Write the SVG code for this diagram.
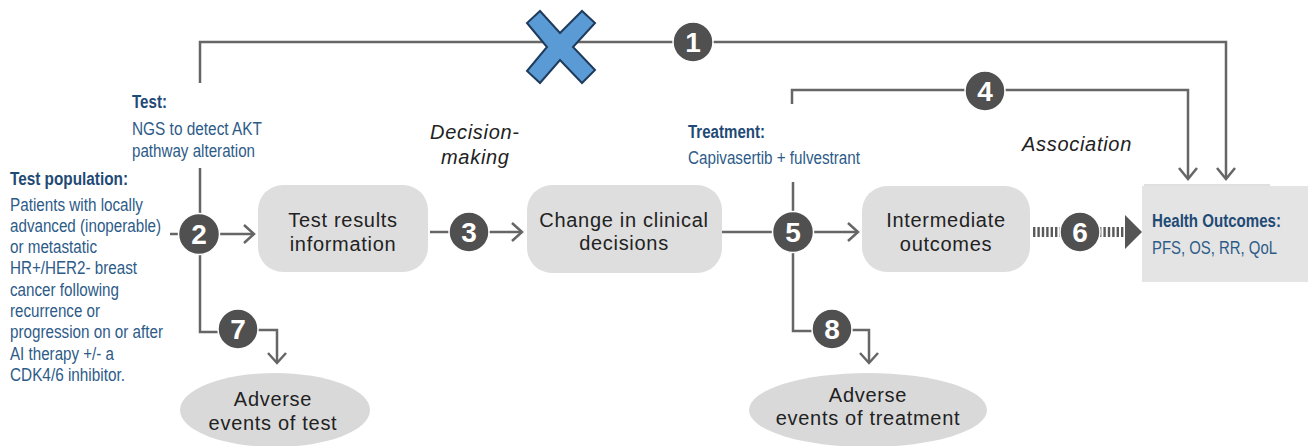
<svg xmlns="http://www.w3.org/2000/svg" width="1308" height="446" viewBox="0 0 1308 446">
<style>
.ln{fill:none;stroke:#666;stroke-width:2.5}
.ah{fill:none;stroke:#666;stroke-width:2.5;stroke-linejoin:miter}
.box{fill:#dedede}
.bt{font-family:"Liberation Sans",Arial,sans-serif;font-size:20px;letter-spacing:0.7px;fill:#222;text-anchor:middle}
.it{font-family:"Liberation Sans",Arial,sans-serif;font-size:20px;letter-spacing:0.7px;fill:#222;font-style:italic}
.hd{font-family:"Liberation Sans",Arial,sans-serif;font-size:17.5px;font-weight:bold;fill:#1f4a75}
.tx{font-family:"Liberation Sans",Arial,sans-serif;font-size:17.5px;fill:#2d5b88}
.nc{fill:#505050;stroke:#fff;stroke-width:1.5}
.nt{font-family:"Liberation Sans",Arial,sans-serif;font-size:28px;font-weight:bold;fill:#fff;text-anchor:middle}
</style>

<g id="connectors">
  <path class="ln" d="M200,83 V42 H1226 V178"/>
  <path class="ah" d="M1217,168 L1226,179 L1235,168"/>
  <path class="ln" d="M792,104 V90 H1188 V178"/>
  <path class="ah" d="M1179,168 L1188,179 L1197,168"/>
  <path class="ln" d="M200,168 V332 H220"/>
  <path class="ln" d="M170,234 H178"/>
  <path class="ln" d="M220,234 H254"/>
  <path class="ah" d="M244,225 L254,234 L244,243"/>
  <path class="ln" d="M256,330 H277 V363"/>
  <path class="ah" d="M268,353 L277,363 L286,353"/>
  <path class="ln" d="M430,232 H450"/>
  <path class="ln" d="M488,232 H522"/>
  <path class="ah" d="M512,223 L522,232 L512,241"/>
  <path class="ln" d="M722,232 H774"/>
  <path class="ln" d="M812,232 H858"/>
  <path class="ah" d="M848,223 L858,232 L848,241"/>
  <path class="ln" d="M793,182 V331 H813"/>
  <path class="ln" d="M851,330 H869 V363"/>
  <path class="ah" d="M860,353 L869,363 L878,353"/>
  <path d="M1033,232 H1062" fill="none" stroke="#5a5a5a" stroke-width="10" stroke-dasharray="2.4 2"/>
  <path d="M1099,232 H1125" fill="none" stroke="#5a5a5a" stroke-width="10" stroke-dasharray="2.4 2"/>
  <polygon points="1125,215 1142,232 1125,249" fill="#555"/>
</g>

<g id="x-mark">
  <polygon points="540,11 560,33 582,11 595,23 573,47 595,70 582,83 560,60 540,83 527,71 547,47 527,23" fill="#5b9bd5" stroke="#1e3b5c" stroke-width="2" stroke-linejoin="miter"/>
</g>

<g id="n1"><circle class="nc" cx="693" cy="42" r="20"/><text class="nt" x="693" y="52">1</text></g>
<g id="n2"><circle class="nc" cx="199" cy="234" r="20.5"/><text class="nt" x="199" y="244">2</text></g>
<g id="n3"><circle class="nc" cx="469" cy="232" r="20"/><text class="nt" x="469" y="242">3</text></g>
<g id="n4"><circle class="nc" cx="985" cy="91" r="20"/><text class="nt" x="985" y="101">4</text></g>
<g id="n5"><circle class="nc" cx="793" cy="232" r="20.5"/><text class="nt" x="793" y="242">5</text></g>
<g id="n6"><circle class="nc" cx="1080" cy="232" r="20"/><text class="nt" x="1080" y="242">6</text></g>
<g id="n7"><circle class="nc" cx="238" cy="329" r="20"/><text class="nt" x="238" y="339">7</text></g>
<g id="n8"><circle class="nc" cx="832" cy="329" r="20"/><text class="nt" x="832" y="339">8</text></g>

<g id="test-label">
  <text class="hd" x="132" y="108" textLength="35" lengthAdjust="spacingAndGlyphs">Test:</text>
  <text class="tx" x="132" y="135" textLength="130" lengthAdjust="spacingAndGlyphs">NGS to detect AKT</text>
  <text class="tx" x="132" y="157" textLength="123" lengthAdjust="spacingAndGlyphs">pathway alteration</text>
</g>

<g id="test-population">
  <text class="hd" x="10" y="185" textLength="118" lengthAdjust="spacingAndGlyphs">Test population:</text>
  <text class="tx" x="10" y="211" textLength="133" lengthAdjust="spacingAndGlyphs">Patients with locally</text>
  <text class="tx" x="10" y="232" textLength="151" lengthAdjust="spacingAndGlyphs">advanced (inoperable)</text>
  <text class="tx" x="10" y="253" textLength="87" lengthAdjust="spacingAndGlyphs">or metastatic</text>
  <text class="tx" x="10" y="274" textLength="127" lengthAdjust="spacingAndGlyphs">HR+/HER2- breast</text>
  <text class="tx" x="10" y="296" textLength="109" lengthAdjust="spacingAndGlyphs">cancer following</text>
  <text class="tx" x="10" y="317" textLength="90" lengthAdjust="spacingAndGlyphs">recurrence or</text>
  <text class="tx" x="10" y="338" textLength="153" lengthAdjust="spacingAndGlyphs">progression on or after</text>
  <text class="tx" x="10" y="360" textLength="104" lengthAdjust="spacingAndGlyphs">AI therapy +/- a</text>
  <text class="tx" x="10" y="381" textLength="115" lengthAdjust="spacingAndGlyphs">CDK4/6 inhibitor.</text>
</g>

<g id="test-results">
  <rect class="box" x="258" y="185" width="170" height="87" rx="25"/>
  <text class="bt" x="343" y="227">Test results</text>
  <text class="bt" x="343" y="251">information</text>
</g>

<g id="decision-label">
  <text class="it" x="430" y="139">Decision-</text>
  <text class="it" x="441" y="164">making</text>
</g>

<g id="clinical-decisions">
  <rect class="box" x="527" y="185" width="195" height="88" rx="25"/>
  <text class="bt" x="624" y="227">Change in clinical</text>
  <text class="bt" x="624" y="250">decisions</text>
</g>

<g id="treatment-label">
  <text class="hd" x="688" y="138" textLength="77" lengthAdjust="spacingAndGlyphs">Treatment:</text>
  <text class="tx" x="688" y="164" textLength="172" lengthAdjust="spacingAndGlyphs">Capivasertib + fulvestrant</text>
</g>

<g id="intermediate">
  <rect class="box" x="862" y="186" width="168" height="86" rx="25"/>
  <text class="bt" x="946" y="227">Intermediate</text>
  <text class="bt" x="946" y="251">outcomes</text>
</g>

<g id="association-label">
  <text class="it" x="1022" y="151">Association</text>
</g>

<g id="health-outcomes">
  <rect x="1142" y="186" width="166" height="96" fill="#e4e4e4"/>
  <line x1="1144" y1="185" x2="1270" y2="185" stroke="#d6d6d6" stroke-width="1.5"/>
  <text class="hd" x="1152" y="227" textLength="129" lengthAdjust="spacingAndGlyphs">Health Outcomes:</text>
  <text class="tx" x="1152" y="254" textLength="125" lengthAdjust="spacingAndGlyphs">PFS, OS, RR, QoL</text>
</g>

<g id="ae-test">
  <ellipse cx="275" cy="410" rx="95" ry="37" fill="#d9d9d9"/>
  <text class="bt" x="273" y="406">Adverse</text>
  <text class="bt" x="273" y="430">events of test</text>
</g>

<g id="ae-treatment">
  <ellipse cx="868" cy="410" rx="119" ry="37" fill="#d9d9d9"/>
  <text class="bt" x="868" y="402">Adverse</text>
  <text class="bt" x="868" y="425">events of treatment</text>
</g>
</svg>
